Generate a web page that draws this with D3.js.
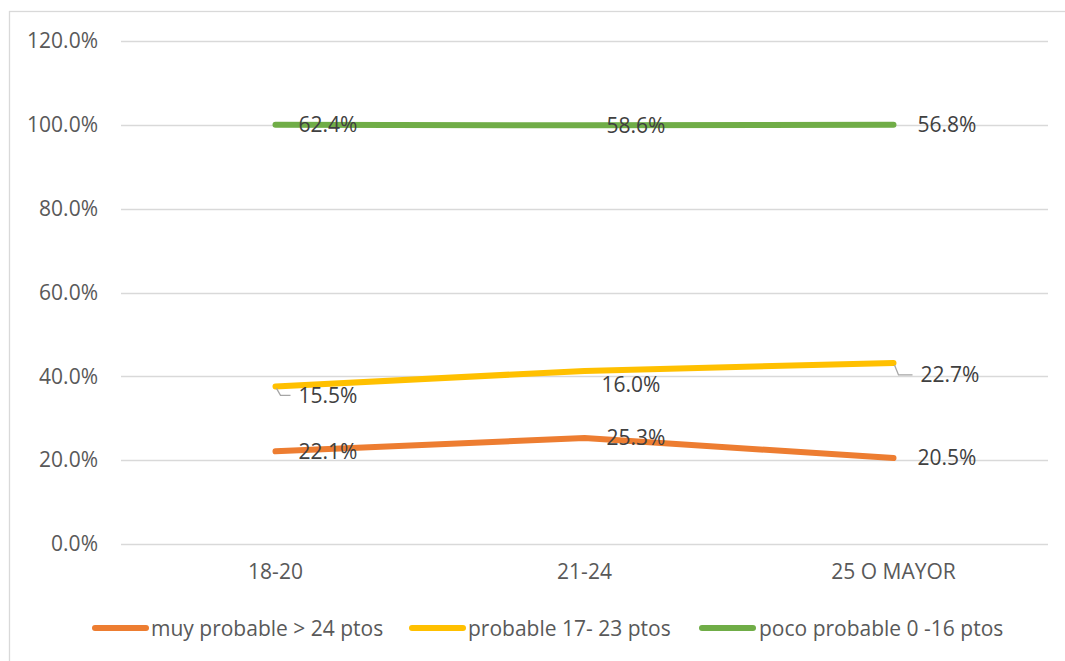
<!DOCTYPE html>
<html>
<head>
<meta charset="utf-8">
<script src="https://cdn.jsdelivr.net/npm/d3@7"></script>
<style>
  html, body { margin: 0; padding: 0; background: #fff; }
  svg { display: block; font-family: "Open Sans", sans-serif; }
</style>
</head>
<body>
<svg id="chart" width="1065" height="661"></svg>
<script>
// Age groups and the share of each likelihood band (percent)
const categories = ["18-20", "21-24", "25 O MAYOR"];
const seriesNames = ["muy probable > 24 ptos", "probable 17- 23 ptos", "poco probable 0 -16 ptos"];
const muyProbable = [22.1, 25.3, 20.5];
const probable = [15.5, 16.0, 22.7];
const pocoProbable = [62.4, 58.6, 56.8];
const yTicks = [0, 20, 40, 60, 80, 100, 120];
const colors = ["#ED7D31", "#FFC000", "#70AD47"];

// Label nudges (px) relative to each stacked point: [series][category]
const labelNudge = [
  [[23, 0], [22, 0], [24, 0]],
  [[23, 9], [17, 14], [27, 12]],
  [[23, 0], [22, 0], [24, 0]]
];

const FONT = "21px";
const svg = d3.select("#chart");
const margin = { left: 121, right: 17, top: 41, bottom: 117 };
const W = 1065, H = 661;

// chart frame (open on right and bottom edges of the page)
svg.append("rect")
  .attr("x", 9.5).attr("y", 11.5)
  .attr("width", 1070).attr("height", 670)
  .attr("fill", "#fff").attr("stroke", "#D9D9D9").attr("stroke-width", 1.3);

const x = d3.scaleBand().domain(categories)
  .range([margin.left, W - margin.right]);
const y = d3.scaleLinear().domain([0, 120])
  .range([H - margin.bottom, margin.top]);

// gridlines
svg.append("g").selectAll("line").data(yTicks).join("line")
  .attr("x1", margin.left).attr("x2", W - margin.right)
  .attr("y1", d => Math.round(y(d)) + 0.5).attr("y2", d => Math.round(y(d)) + 0.5)
  .attr("stroke", "#D9D9D9").attr("stroke-width", 1.3);

// y axis labels
const yAxis = d3.axisLeft(y).tickValues(yTicks)
  .tickFormat(d => d.toFixed(1) + "%").tickSize(0).tickPadding(23);
const gy = svg.append("g").attr("transform", `translate(${margin.left},0)`).call(yAxis);
gy.select(".domain").remove();
gy.selectAll("text").attr("fill", "#595959").style("font-size", FONT)
  .style("font-family", "'Open Sans', sans-serif");

// x axis labels
const xAxis = d3.axisBottom(x).tickSize(0).tickPadding(20);
const gx = svg.append("g").attr("transform", `translate(0,${H - margin.bottom})`).call(xAxis);
gx.select(".domain").remove();
gx.selectAll("text").attr("fill", "#595959").style("font-size", FONT)
  .style("font-family", "'Open Sans', sans-serif");

// stacked series
const rows = categories.map((c, i) => ({
  cat: c, s0: muyProbable[i], s1: probable[i], s2: pocoProbable[i]
}));
const stack = d3.stack().keys(["s0", "s1", "s2"]);
const stacked = stack(rows);

const line = d3.line()
  .x(d => x(d.data.cat) + x.bandwidth() / 2)
  .y(d => y(d[1]));

// draw from top series down so lower ones sit above
stacked.slice().reverse().forEach(s => {
  svg.append("path").datum(s)
    .attr("d", line)
    .attr("fill", "none")
    .attr("stroke", colors[s.index])
    .attr("stroke-width", 6)
    .attr("stroke-linecap", "round")
    .attr("stroke-linejoin", "round");
});

// data labels with leader lines where they are pushed away
const labelG = svg.append("g");
stacked.forEach((s, si) => {
  const vals = [muyProbable, probable, pocoProbable][si];
  s.forEach((d, ci) => {
    const px = x(d.data.cat) + x.bandwidth() / 2;
    const py = y(d[1]);
    const [dx, dy] = labelNudge[si][ci];
    const lx = px + dx, ly = py + dy;
    if (si === 1 && ci !== 1) {
      labelG.append("path")
        .attr("d", `M${px + 1},${py + 2} L${px + 5},${ly} L${lx - 8},${ly}`)
        .attr("fill", "none").attr("stroke", "#A6A6A6").attr("stroke-width", 1.3);
    }
    labelG.append("text")
      .attr("x", lx).attr("y", ly)
      .attr("dy", "0.35em")
      .attr("fill", "#404040")
      .style("font-size", FONT)
      .text(vals[ci].toFixed(1) + "%");
  });
});

// legend
const legendItems = [
  { x1: 95, x2: 146, tx: 151 },
  { x1: 412, x2: 463, tx: 468 },
  { x1: 702, x2: 753, tx: 759 }
];
const lg = svg.append("g");
seriesNames.forEach((name, i) => {
  const it = legendItems[i];
  lg.append("line")
    .attr("x1", it.x1).attr("x2", it.x2)
    .attr("y1", 628).attr("y2", 628)
    .attr("stroke", colors[i]).attr("stroke-width", 6)
    .attr("stroke-linecap", "round");
  lg.append("text")
    .attr("x", it.tx).attr("y", 629).attr("dy", "0.35em")
    .attr("fill", "#595959").style("font-size", FONT)
    .text(name);
});
</script>
</body>
</html>
